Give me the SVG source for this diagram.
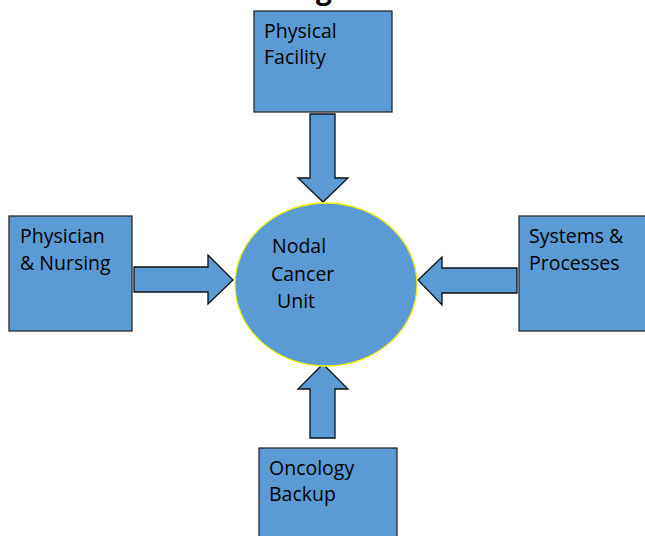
<svg xmlns="http://www.w3.org/2000/svg" width="645" height="536" viewBox="0 0 645 536">
<style>
.box{fill:#5B9BD5;stroke:#2b2b2b;stroke-width:1.3}
.arr{fill:#5B9BD5;stroke:#111;stroke-width:1.3;stroke-linejoin:miter}
.t{font-family:"Open Sans","Liberation Sans",sans-serif;font-size:19.5px;fill:#000}
</style>
<rect width="645" height="536" fill="#fff"/>
<text x="316" y="-1" font-family="Open Sans, sans-serif" font-weight="bold" font-size="28" fill="#000">g</text>
<g id="connectors">
<polygon class="arr" points="310,114 335,114 335,178 348,178 323,202 298,178 310,178"/>
<polygon class="arr" points="134,267 208,267 208,255 233,280 208,304 208,292 134,292"/>
<polygon class="arr" points="517,268 442,268 442,257 418,280 442,305 442,293 517,293"/>
<polygon class="arr" points="310,438 310,389 298,389 323,364 348,389 335,389 335,438"/>
</g>
<g id="physical-facility">
<rect class="box" x="254" y="11" width="138" height="101"/>
<text class="t" x="264" y="38">Physical</text>
<text class="t" x="264" y="64">Facility</text>
</g>
<g id="physician-nursing">
<rect class="box" x="9" y="216" width="123" height="115"/>
<text class="t" x="20" y="243">Physician</text>
<text class="t" x="20" y="270">&amp; Nursing</text>
</g>
<g id="systems-processes">
<rect class="box" x="519" y="216" width="130" height="115"/>
<text class="t" x="529" y="243">Systems &amp;</text>
<text class="t" x="529" y="270">Processes</text>
</g>
<g id="oncology-backup">
<rect class="box" x="259" y="448" width="138" height="95"/>
<text class="t" x="269" y="475">Oncology</text>
<text class="t" x="269" y="501">Backup</text>
</g>
<g id="nodal-cancer-unit">
<ellipse cx="326" cy="284.5" rx="91" ry="81.5" fill="#5B9BD5" stroke="#f2f200" stroke-width="1.3"/>
<text class="t" x="272" y="253">Nodal</text>
<text class="t" x="271" y="281">Cancer</text>
<text class="t" x="277" y="308">Unit</text>
</g>
</svg>
